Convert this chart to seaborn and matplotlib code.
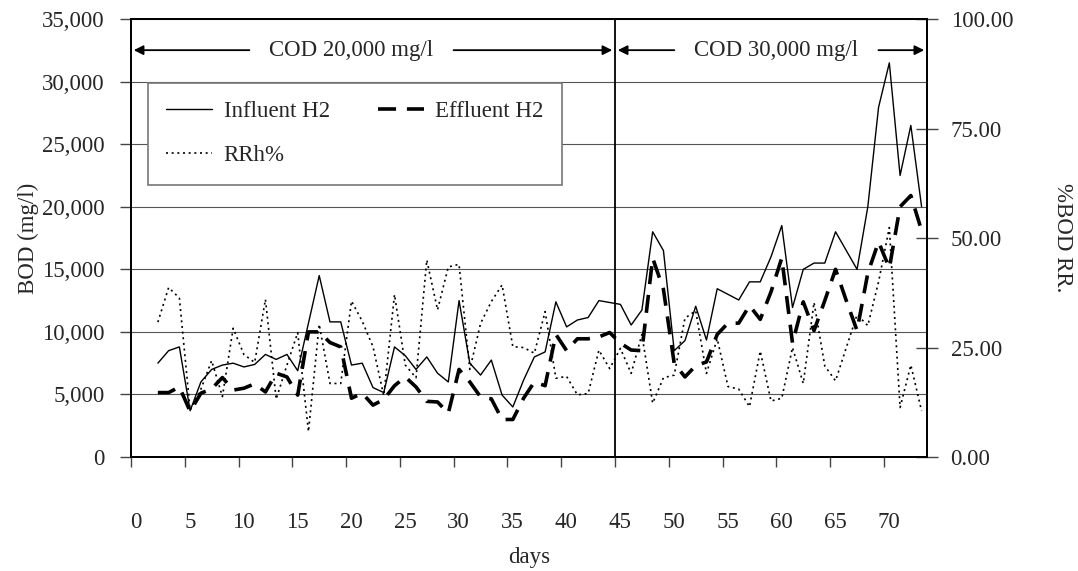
import numpy as np
import pandas as pd
import matplotlib
matplotlib.use("Agg")
import matplotlib.pyplot as plt
import matplotlib.transforms as mtransforms
from matplotlib.ticker import FuncFormatter
import seaborn as sns

# days of sampling (points sit in the middle of each day)
days = np.arange(2.5, 74.0, 1.0)

influent_h2 = [7500, 8500, 8800, 3700, 6000, 7000, 7350, 7500, 7200, 7400,
               8200, 7800, 8200, 6900, 10700, 14500, 10800, 10800, 7350, 7500,
               5550, 5150, 8800, 8100, 7000, 8000, 6700, 6000, 12500, 7500,
               6550, 7750, 4950, 4000, 6150, 8000, 8400, 12400, 10400, 10950,
               11150, 12500, 12350, 12200, 10550, 11750, 18000, 16500, 8500, 9300,
               12050, 9350, 13450, 13000, 12550, 14000, 14000, 16000, 18500, 11950,
               15000, 15500, 15500, 18000, 16500, 15000, 20000, 27950, 31500, 22500,
               26500, 20000]

effluent_h2 = [5150, 5150, 5600, 3650, 5100, 5450, 6350, 5350, 5500, 5850,
               5200, 6700, 6400, 4950, 10000, 10000, 9150, 8800, 4700, 5100,
               4150, 4600, 5700, 6400, 5600, 4450, 4400, 3500, 7000, 6000,
               4800, 4650, 3000, 3000, 4700, 6000, 5700, 9800, 8500, 9450,
               9450, 9600, 9950, 9100, 8550, 8500, 15900, 13400, 7500, 6400,
               7300, 7600, 9800, 10700, 10700, 12100, 11000, 13200, 15900, 9100,
               12400, 10100, 12500, 15000, 12500, 10100, 14700, 17200, 15100, 20000,
               20900, 18100]

rrh_pct = [30.8, 38.7, 36.3, 10.7, 15.5, 22.0, 13.8, 29.4, 23.4, 21.6,
           36.0, 13.2, 21.0, 28.4, 5.8, 30.3, 16.8, 16.8, 35.6, 31.0,
           25.2, 14.0, 37.1, 21.0, 18.1, 45.0, 33.6, 43.4, 44.0, 20.0,
           30.5, 35.5, 39.3, 25.2, 25.0, 23.7, 33.2, 18.0, 18.4, 14.2,
           14.5, 24.4, 20.2, 24.8, 19.1, 28.0, 12.3, 18.1, 18.7, 31.7,
           33.4, 19.1, 27.0, 16.1, 15.5, 11.5, 24.2, 12.8, 13.4, 25.0,
           16.8, 35.3, 20.8, 17.4, 25.0, 32.5, 30.0, 40.0, 52.4, 11.3,
           21.0, 10.5]

periods = [(0, 45, "COD 20,000 mg/l", 20.5), (45, 74, "COD 30,000 mg/l", 60.0)]
x_ticks = list(range(0, 75, 5))
left_ticks = list(range(0, 35001, 5000))
right_ticks = [0, 25, 50, 75, 100]

df = pd.DataFrame({"days": days, "Influent H2": influent_h2,
                   "Effluent H2": effluent_h2, "RRh%": rrh_pct})

sns.set_style("white")
plt.rcParams["font.family"] = ["Liberation Serif", "DejaVu Serif"]
FS = 16.5

fig = plt.figure(figsize=(10.78, 5.71), dpi=100)
ax = fig.add_axes([0.1215, 0.1996, 0.7384, 0.767])
ax2 = ax.twinx()

sns.lineplot(data=df, x="days", y="Influent H2", ax=ax, color="black", lw=1.0)
sns.lineplot(data=df, x="days", y="Effluent H2", ax=ax, color="black", lw=2.6,
             linestyle=(0, (5, 3)))
sns.lineplot(data=df, x="days", y="RRh%", ax=ax2, color="black", lw=1.2,
             linestyle=(0, (1.2, 2.2)))

ax.set_xlim(0, 74)
ax.set_ylim(0, 35000)
ax2.set_ylim(0, 100)

ax.set_xticks(x_ticks)
ax.set_yticks(left_ticks)
ax2.set_yticks(right_ticks)
ax.yaxis.set_major_formatter(FuncFormatter(lambda v, p: f"{int(v):,}"))
ax2.yaxis.set_major_formatter(FuncFormatter(lambda v, p: f"{v:.2f}"))

ax.grid(axis="y", color="#555555", lw=0.8)
ax.grid(axis="x", visible=False)
ax2.grid(False)
ax.set_axisbelow(True)

for a in (ax, ax2):
    for s in a.spines.values():
        s.set_color("black")
        s.set_linewidth(1.3)

ax.tick_params(axis="x", direction="out", length=7.5, width=1, color="#444444",
               labelsize=FS, pad=32, bottom=True)
ax.tick_params(axis="y", direction="out", length=8, width=1, color="#444444",
               labelsize=FS, pad=11, left=True)
ax2.tick_params(axis="y", direction="inout", length=16, width=1, color="#444444",
                labelsize=FS, pad=9, right=True)

# shift day labels a touch to the right, as in the original
offset = mtransforms.ScaledTranslation(5 / 100, 0, fig.dpi_scale_trans)
for lbl in ax.get_xticklabels():
    lbl.set_transform(lbl.get_transform() + offset)

ax.set_xlabel("days", fontsize=FS, labelpad=10)
ax.set_ylabel("BOD (mg/l)", fontsize=FS, labelpad=2)
ax2.set_ylabel("%BOD RR.", fontsize=FS, rotation=270, va="bottom", labelpad=28)

# boundary between the two feed strengths
ax.axvline(periods[1][0], color="black", lw=1.3)

# period labels with arrows
trans = mtransforms.blended_transform_factory(ax.transData, ax.transAxes)
arrow_y = 0.929
fig.canvas.draw()
renderer = fig.canvas.get_renderer()
for start, end, label, xc in periods:
    t = ax.text(xc, arrow_y, label, transform=trans, ha="center", va="center",
                fontsize=FS)
    bb = t.get_window_extent(renderer)
    inv = ax.transData.inverted()
    x_left = inv.transform((bb.x0 - 20, bb.y0))[0]
    x_right = inv.transform((bb.x1 + 20, bb.y0))[0]
    arrow = dict(arrowstyle="-|>", color="black", lw=1.3, mutation_scale=14,
                 shrinkA=0, shrinkB=2)
    ax.annotate("", xy=(start, arrow_y), xytext=(x_left, arrow_y),
                xycoords=trans, textcoords=trans, arrowprops=arrow)
    ax.annotate("", xy=(end, arrow_y), xytext=(x_right, arrow_y),
                xycoords=trans, textcoords=trans, arrowprops=arrow)

# legend
lines = ax.get_lines()[:2] + ax2.get_lines()[:1]
for a in (ax, ax2):
    if a.get_legend() is not None:
        a.get_legend().remove()
handles = [lines[0], lines[2], lines[1]]
labels = ["Influent H2", "RRh%", "Effluent H2"]
leg = ax2.legend(handles, labels, ncol=2, loc="upper left",
                 bbox_to_anchor=(0.0214, 0.854), borderaxespad=0,
                 fontsize=FS, frameon=True, fancybox=False, framealpha=1,
                 edgecolor="#777777", handlelength=2.0, handletextpad=0.5,
                 columnspacing=2.1, labelspacing=1.0, borderpad=0.8)
leg.get_frame().set_linewidth(1.2)

fig.savefig("out.png", dpi=100)
